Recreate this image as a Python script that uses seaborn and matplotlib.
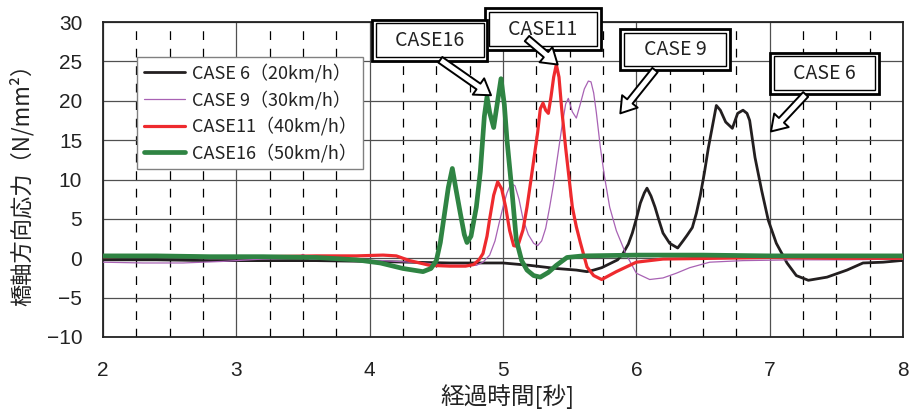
import matplotlib
matplotlib.use("Agg")
import matplotlib.pyplot as plt
import numpy as np
import pandas as pd
import seaborn as sns

sns.set_theme(style="white")
plt.rcParams['font.family'] = ['Noto Sans CJK JP', 'DejaVu Sans']
plt.rcParams['axes.unicode_minus'] = True

# ---------------- data ----------------
case6_t = [2.0, 2.4, 2.8, 3.2, 3.6, 4.0, 4.3, 4.6, 4.8, 5.0, 5.2, 5.4, 5.55, 5.63, 5.68, 5.74, 5.8, 5.86,
           5.9, 5.94, 5.97, 6.0, 6.03, 6.06, 6.08, 6.11, 6.14, 6.17, 6.2, 6.25, 6.28, 6.31, 6.35, 6.38,
           6.42, 6.45, 6.48, 6.51, 6.54, 6.57, 6.6, 6.63, 6.67, 6.72, 6.76, 6.8, 6.83, 6.85, 6.89, 6.94,
           6.99, 7.05, 7.13, 7.2, 7.29, 7.43, 7.58, 7.7, 7.85, 7.98, 8.0]
case6_s = [-0.2, -0.2, -0.3, -0.3, -0.3, -0.4, -0.5, -0.6, -0.6, -0.6, -0.9, -1.3, -1.5, -1.7, -1.5, -1.2, -0.7, -0.2,
           0.6, 1.8, 3.2, 5.0, 7.0, 8.3, 8.9, 7.9, 6.5, 4.8, 3.2, 1.9, 1.6, 1.3, 2.2, 2.9,
           3.9, 5.7, 8.0, 10.8, 14.0, 16.7, 19.4, 18.8, 17.3, 16.5, 18.4, 18.8, 18.4, 17.5, 12.8, 8.6,
           4.8, 1.9, -0.6, -2.2, -2.8, -2.4, -1.5, -0.6, -0.5, -0.3, -0.3]

case9_t = [2.0, 2.3, 2.6, 2.9, 3.2, 3.45, 3.5, 3.55, 3.8, 4.1, 4.4, 4.6, 4.8, 4.85, 4.9, 4.94, 4.97, 5.0,
           5.03, 5.06, 5.09, 5.12, 5.15, 5.19, 5.23, 5.26, 5.29, 5.32, 5.35, 5.38, 5.41, 5.44, 5.47, 5.49,
           5.52, 5.55, 5.58, 5.61, 5.64, 5.66, 5.68, 5.7, 5.73, 5.76, 5.8, 5.85, 5.92, 6.0, 6.1, 6.2, 6.3,
           6.4, 6.55, 6.8, 7.2, 7.6, 8.0]
case9_s = [-0.5, -0.6, -0.6, -0.4, -0.1, 0.0, 0.5, -0.1, -0.2, -0.3, -0.6, -0.9, -0.9, -0.5, 0.4, 2.2, 4.4, 6.5,
           8.3, 9.5, 9.2, 7.5, 5.0, 3.0, 1.9, 1.6, 2.2, 3.8, 6.5, 9.5, 13.0, 16.5, 19.6, 20.3,
           18.6, 17.8, 19.6, 21.5, 22.5, 22.4, 21.0, 18.5, 14.1, 10.5, 6.5, 3.5, 0.6, -1.9, -2.7, -2.5, -1.9,
           -1.2, -0.5, -0.3, -0.2, -0.2, -0.1]

case11_t = [2.0, 2.4, 2.8, 3.2, 3.6, 3.9, 4.1, 4.2, 4.3, 4.45, 4.6, 4.72, 4.78, 4.82, 4.85, 4.88, 4.9, 4.93,
            4.96, 4.99, 5.02, 5.05, 5.08, 5.11, 5.15, 5.18, 5.21, 5.23, 5.26, 5.28, 5.3, 5.32, 5.34, 5.36,
            5.38, 5.4, 5.42, 5.44, 5.47, 5.5, 5.52, 5.55, 5.58, 5.63, 5.68, 5.74, 5.85, 6.0, 6.2, 6.6, 7.0,
            7.5, 8.0]
case11_s = [0.2, 0.3, 0.2, 0.2, 0.3, 0.3, 0.4, 0.3, -0.3, -0.9, -1.0, -1.0, -0.8, -0.2, 0.6, 2.8, 5.0, 8.0,
            9.7, 8.8, 6.5, 3.5, 1.6, 1.5, 3.6, 6.5, 10.0, 12.4, 16.0, 19.0, 19.7, 18.8, 18.4, 20.5,
            23.0, 24.6, 23.0, 19.0, 14.0, 9.5, 6.5, 4.0, 2.0, -1.1, -2.2, -2.7, -1.7, -0.5, -0.1, 0.0, 0.1,
            0.0, 0.0]

case16_t = [2.0, 2.4, 2.8, 3.2, 3.6, 3.9, 4.08, 4.25, 4.4, 4.46, 4.5, 4.53, 4.56, 4.59, 4.62, 4.65, 4.68,
            4.71, 4.73, 4.76, 4.8, 4.83, 4.86, 4.88, 4.9, 4.93, 4.96, 4.985, 5.01, 5.03, 5.05, 5.07, 5.1,
            5.14, 5.18, 5.23, 5.28, 5.34, 5.4, 5.48, 5.6, 6.0, 6.5, 7.0, 7.5, 8.0]
case16_s = [0.3, 0.3, 0.2, 0.2, 0.1, -0.2, -0.6, -1.3, -1.7, -1.3, -0.3, 2.0, 5.5, 9.0, 11.4, 8.5, 5.7,
            3.0, 2.0, 2.8, 6.5, 11.0, 18.0, 20.5, 18.5, 16.6, 20.0, 22.8, 19.5, 15.0, 11.5, 8.0, 2.3,
            -0.3, -1.5, -2.2, -2.4, -1.8, -0.9, 0.1, 0.3, 0.4, 0.4, 0.3, 0.3, 0.3]

series_labels = ['CASE 6（20km/h）', 'CASE 9（30km/h）', 'CASE11（40km/h）', 'CASE16（50km/h）']
box_labels = ['CASE 6', 'CASE 9', 'CASE11', 'CASE16']
x_ticks = [2, 3, 4, 5, 6, 7, 8]
y_ticks = [-10, -5, 0, 5, 10, 15, 20, 25, 30]

# ---------------- styling ----------------
colors = ['#231f20', '#a862b4', '#ee2a2e', '#2f8443']
widths = [2.0, 0.9, 2.3, 3.4]

fig = plt.figure(figsize=(9.09, 4.16), dpi=100)
ax = fig.add_axes([103 / 909, 79 / 416, 800 / 909, 315 / 416])

all_t = [case6_t, case9_t, case11_t, case16_t]
all_s = [case6_s, case9_s, case11_s, case16_s]
for t, s, lab, c, w in zip(all_t, all_s, series_labels, colors, widths):
    df = pd.DataFrame({'t': t, 's': s})
    sns.lineplot(data=df, x='t', y='s', ax=ax, color=c, linewidth=w, label=lab,
                 sort=False, estimator=None, zorder=3)

ax.set_xlim(2, 8)
ax.set_ylim(-10, 30)
ax.set_xticks(x_ticks)
ax.set_xticks(np.arange(2, 8.001, 0.25), minor=True)
ax.set_yticks(y_ticks)
ax.grid(which='major', axis='both', color='#505050', lw=0.9, ls='-', zorder=1)
ax.grid(which='minor', axis='x', color='black', lw=0.9, ls=(0, (7, 7)), zorder=1)
ax.set_axisbelow(True)

for sp in ax.spines.values():
    sp.set_color('#222222')
    sp.set_linewidth(1.3)

ax.tick_params(axis='both', which='both', direction='in', colors='black', width=1.0,
               labelcolor='#222222', labelfontfamily='Liberation Sans')
ax.tick_params(axis='x', which='major', length=5, labelsize=15, pad=17)
ax.tick_params(axis='x', which='minor', length=5)
ax.tick_params(axis='y', which='major', length=6, labelsize=15, pad=15)

ax.set_xlabel('経過時間[秒]', fontsize=17, color='#222222')
ax.set_ylabel('橋軸方向応力（N/mm²）', fontsize=16, color='#222222')
ax.xaxis.set_label_coords(0.506, -0.15)
ax.yaxis.set_label_coords(-0.087, 0.5)

leg = ax.legend(loc='upper left', bbox_to_anchor=(0.0425, 0.889), frameon=True, fancybox=False,
                edgecolor='#808080', framealpha=1, borderaxespad=0, fontsize=13,
                handlelength=2.3, handletextpad=0.35, labelspacing=0.42, borderpad=0.38)
leg.get_frame().set_linewidth(1.0)
for txt in leg.get_texts():
    txt.set_color('#222222')

# ---------------- annotation boxes & arrows ----------------
box_pos = {'CASE 6': (7.41, 23.5), 'CASE 9': (6.29, 26.5), 'CASE11': (5.30, 29.1), 'CASE16': (4.45, 27.7)}
arrows = {'CASE 6': ((7.27, 20.8), (7.01, 16.1)),
          'CASE 9': ((6.14, 23.9), (5.88, 18.4)),
          'CASE11': ((5.18, 27.9), (5.41, 24.6)),
          'CASE16': ((4.53, 25.2), (4.91, 20.7))}
for lab in box_labels:
    x, y = box_pos[lab]
    txt = '   ' + lab + '   '
    ax.text(x, y, txt, ha='center', va='center', fontsize=14, color='none', zorder=5,
            bbox=dict(boxstyle='square,pad=0.52', fc='white', ec='black', lw=2.0), clip_on=False)
    ax.text(x, y, txt, ha='center', va='center', fontsize=14, color='#222222', zorder=6,
            bbox=dict(boxstyle='square,pad=0.32', fc='white', ec='black', lw=1.0), clip_on=False)
    tail, tip = arrows[lab]
    ax.annotate('', xy=tip, xytext=tail, annotation_clip=False, zorder=7,
                arrowprops=dict(arrowstyle='simple,head_length=1.0,head_width=1.3,tail_width=0.45',
                                mutation_scale=11, fc='white', ec='black', lw=1.4,
                                shrinkA=0, shrinkB=0))

fig.savefig('out.png', dpi=100)
